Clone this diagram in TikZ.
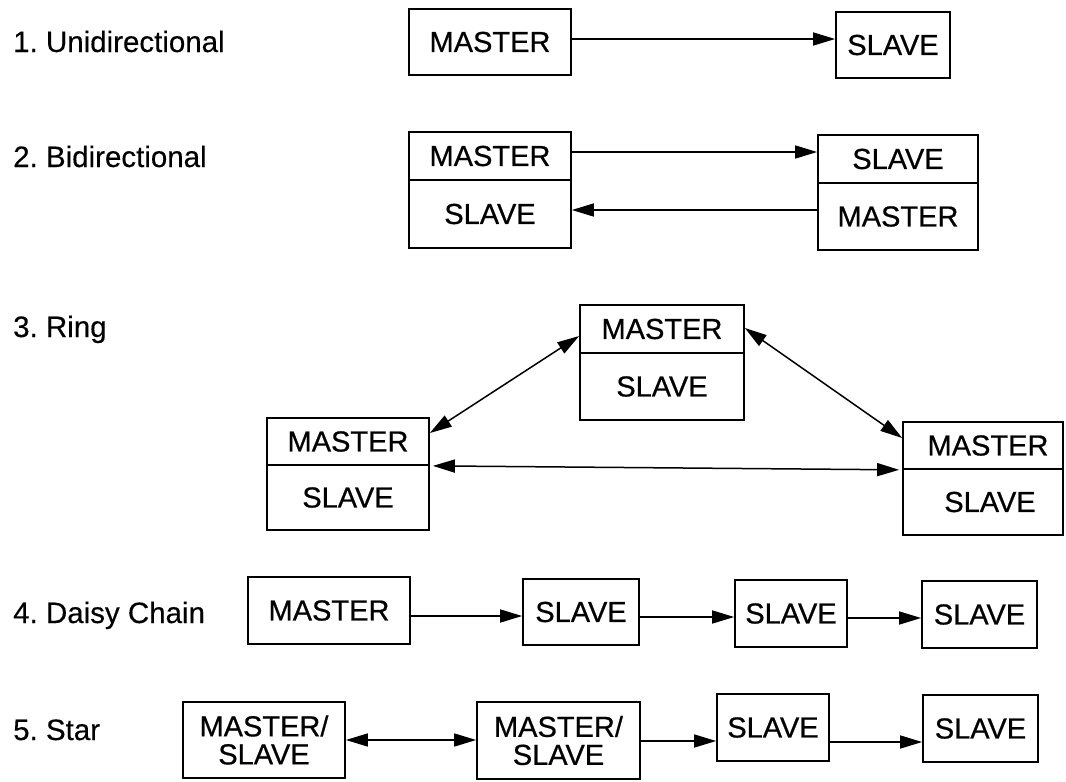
\documentclass[tikz,border=0pt]{standalone}
\usepackage{fontspec}
\setmainfont{Liberation Sans}
\newfontfamily\boxfont{Liberation Sans}[FakeBold=0.6]
\newfontfamily\lblfont{Liberation Sans}[FakeBold=0.3]
\usetikzlibrary{arrows.meta}
\begin{document}
\frenchspacing
\begin{tikzpicture}[x=1pt,y=-1pt,
  box/.style={draw, line width=1.7pt, inner sep=0pt, align=center,
    font=\boxfont\fontsize{29}{28}\selectfont},
  lbl/.style={anchor=base west, inner sep=0pt, font=\lblfont\fontsize{29.5}{30}\selectfont},
  tip/.tip={Triangle[length=22pt,width=13pt]},
  arr/.style={line width=1.5pt, -tip},
  darr/.style={line width=1.5pt, tip-tip}]
\useasboundingbox (0,0) rectangle (1066,782);

% topology labels
\node[lbl] (l1) at (13,52)  {1. Unidirectional};
\node[lbl] (l2) at (13,167) {2. Bidirectional};
\node[lbl] (l3) at (13,337) {3. Ring};
\node[lbl] (l4) at (13,623) {4. Daisy Chain};
\node[lbl] (l5) at (13,740) {5. Star};

% 1. unidirectional
\node[box, minimum width=162pt, minimum height=66pt] (u_m) at (490,42) {MASTER};
\node[box, minimum width=114pt, minimum height=66pt] (u_s) at (893,45) {SLAVE};
\draw[arr] (u_m.east |- 0,39) -- (u_s.west |- 0,39);

% 2. bidirectional
\node[box, minimum width=162pt, minimum height=48pt] (b_lm) at (490,156) {MASTER};
\node[box, minimum width=162pt, minimum height=68pt] (b_ls) at (490,214) {SLAVE};
\node[box, minimum width=160pt, minimum height=48pt] (b_rs) at (898,159) {SLAVE};
\node[box, minimum width=160pt, minimum height=67pt] (b_rm) at (898,216.5) {MASTER};
\draw[arr] (b_lm.east |- 0,152) -- (b_rs.west |- 0,152);
\draw[arr] (b_rm.west |- 0,210) -- (b_ls.east |- 0,210);

% 3. ring
\node[box, minimum width=164pt, minimum height=48pt] (r_tm) at (662,329) {MASTER};
\node[box, minimum width=164pt, minimum height=67pt] (r_ts) at (662,386.5) {SLAVE};
\node[box, minimum width=162pt, minimum height=47pt] (r_lm) at (348,441.5) {MASTER};
\node[box, minimum width=162pt, minimum height=65pt] (r_ls) at (348,497.5) {SLAVE};
\node[box, minimum width=160pt, minimum height=47pt] (r_rm) at (983,445.5) {\hspace*{10pt}MASTER};
\node[box, minimum width=160pt, minimum height=66pt] (r_rs) at (983,502) {\hspace*{14pt}SLAVE};
\draw[darr] (r_lm.east |- 0,433) -- (r_tm.west |- 0,336);
\draw[darr] (r_tm.east |- 0,328) -- (r_rm.west |- 0,438);
\draw[darr, shorten <=3pt, shorten >=3pt] (r_lm.south east) -- (r_rm.south west);

% 4. daisy chain
\node[box, minimum width=162pt, minimum height=67pt] (d_m)  at (329,610.5) {MASTER};
\node[box, minimum width=116pt, minimum height=66pt] (d_s1) at (581,612) {SLAVE};
\node[box, minimum width=112pt, minimum height=67pt] (d_s2) at (791,613.5) {SLAVE};
\node[box, minimum width=115pt, minimum height=67pt] (d_s3) at (979.5,614.5) {SLAVE};
\draw[arr] (d_m.east |- 0,616)  -- (d_s1.west |- 0,616);
\draw[arr] (d_s1.east |- 0,617) -- (d_s2.west |- 0,617);
\draw[arr] (d_s2.east |- 0,618) -- (d_s3.west |- 0,618);

% 5. star
\node[box, minimum width=162pt, minimum height=76pt] (s_1) at (264,740) {MASTER/\\SLAVE};
\node[box, minimum width=163pt, minimum height=77pt] (s_2) at (558.5,740.5) {MASTER/\\SLAVE};
\node[box, minimum width=112pt, minimum height=67pt] (s_3) at (773,727.5) {SLAVE};
\node[box, minimum width=115pt, minimum height=67pt] (s_4) at (980.5,728.5) {SLAVE};
\draw[darr] (s_1.east |- 0,740) -- (s_2.west |- 0,740);
\draw[arr] (s_2.east |- 0,741) -- (s_3.west |- 0,741);
\draw[arr] (s_3.east |- 0,742) -- (s_4.west |- 0,742);
\end{tikzpicture}
\end{document}
